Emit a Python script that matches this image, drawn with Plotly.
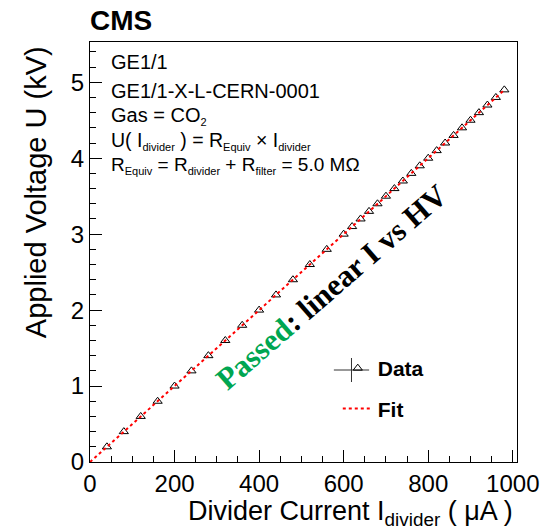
import plotly.graph_objects as go

# Data: divider current (uA) and applied voltage (kV)
current_uA = [40, 80, 120, 160, 200, 240, 280, 320, 360, 400, 440, 480, 520, 560, 600,
              620, 640, 660, 680, 700, 720, 740, 760, 780, 800, 820, 840, 860, 880,
              900, 920, 940, 960, 980]
voltage_kV = [0.2, 0.4, 0.6, 0.8, 1.0, 1.2, 1.4, 1.6, 1.8, 2.0, 2.2, 2.4, 2.6, 2.8, 3.0,
              3.1, 3.2, 3.3, 3.4, 3.5, 3.6, 3.7, 3.8, 3.9, 4.0, 4.1, 4.2, 4.3, 4.4,
              4.5, 4.6, 4.7, 4.8, 4.9]
fit_x = [0, 980]
fit_y = [0.0, 4.9]

W, H = 551, 529
L, R, T, B = 90, 25, 42, 67
pw, ph = W - L - R, H - T - B

def px(x):
    return (x - L) / pw

def py(y):
    return (H - B - y) / ph

SANS = "Liberation Sans, Arial, Helvetica, sans-serif"
SERIF = "Liberation Serif, Times New Roman, serif"

def sub(t):
    return "<sub><span style='font-size:11px'>%s</span></sub>" % t

fig = go.Figure()
fig.add_trace(go.Scatter(
    x=current_uA, y=voltage_kV, mode="markers", name="Data",
    marker=dict(symbol="triangle-up-open", size=8, color="black", line=dict(width=1)),
    legendgroup="a",
))
fig.add_trace(go.Scatter(
    x=fit_x, y=fit_y, mode="lines", name="Fit",
    line=dict(color="red", dash="dot", width=2),
    legendgroup="b",
))

ann = []
ann.append(dict(text="<b>CMS</b>", x=px(88), y=py(21), xref="paper", yref="paper",
                xanchor="left", yanchor="middle", showarrow=False,
                font=dict(family=SANS, size=28, color="black")))
info = [
    ("GE1/1", 62, 20),
    ("GE1/1-X-L-CERN-0001", 91, 20),
    ("Gas = CO" + sub("2"), 116, 20),
    ("U( I" + sub("divider") + " ) = R" + sub("Equiv") + " × I" + sub("divider"), 141, 19.5),
    ("R" + sub("Equiv") + " = R" + sub("divider") + " + R" + sub("filter") + " = 5.0 MΩ", 165, 19),
]
for t, yy, fs in info:
    ann.append(dict(text=t, x=px(109), y=py(yy), xref="paper", yref="paper",
                    xanchor="left", yanchor="middle", showarrow=False,
                    font=dict(family=SANS, size=fs, color="black")))
ann.append(dict(text="<b><span style='color:#00A651'>Passed</span>: linear I vs HV</b>",
                x=px(337), y=py(286), xref="paper", yref="paper", textangle=-41,
                showarrow=False, font=dict(family=SERIF, size=31, color="black")))
ann.append(dict(text="Applied Voltage U (kV)", x=px(35), y=py(192), xref="paper", yref="paper",
                textangle=-90, showarrow=False, xanchor="center", yanchor="middle",
                font=dict(family=SANS, size=29, color="black")))
ann.append(dict(text="Divider Current I<sub>divider</sub> ( μA )", x=px(524), y=py(513),
                xref="paper", yref="paper", xanchor="right", yanchor="middle", showarrow=False,
                font=dict(family=SANS, size=27, color="black")))
fig.update_layout(annotations=ann)

# legend cross for Data
fig.add_shape(type="line", xref="paper", yref="paper", x0=px(339), x1=px(375), y0=py(370), y1=py(370),
              line=dict(color="#333", width=1))
fig.add_shape(type="line", xref="paper", yref="paper", x0=px(357), x1=px(357), y0=py(358), y1=py(382),
              line=dict(color="#333", width=1))

axis_common = dict(showline=True, linecolor="black", linewidth=1, mirror=True,
                   ticks="inside", ticklen=12, tickcolor="black", showgrid=False, zeroline=False,
                   tickfont=dict(family=SANS, size=24, color="black"))
fig.update_xaxes(range=[0, 1010], dtick=200, tick0=0,
                 minor=dict(ticks="inside", ticklen=6, dtick=50, tickcolor="black"), **axis_common)
fig.update_yaxes(range=[0, 5.53], dtick=1, tick0=0,
                 minor=dict(ticks="inside", ticklen=6, dtick=0.2, tickcolor="black"), **axis_common)

fig.update_layout(
    width=W, height=H,
    margin=dict(l=L, r=R, t=T, b=B),
    paper_bgcolor="white", plot_bgcolor="white",
    showlegend=True,
    legend=dict(x=px(343), y=py(348), xanchor="left", yanchor="top",
                bgcolor="rgba(0,0,0,0)", tracegroupgap=10, traceorder="grouped",
                font=dict(family=SANS, size=21, color="black", weight="bold"), itemwidth=30),
)
fig.write_html("out.html")
